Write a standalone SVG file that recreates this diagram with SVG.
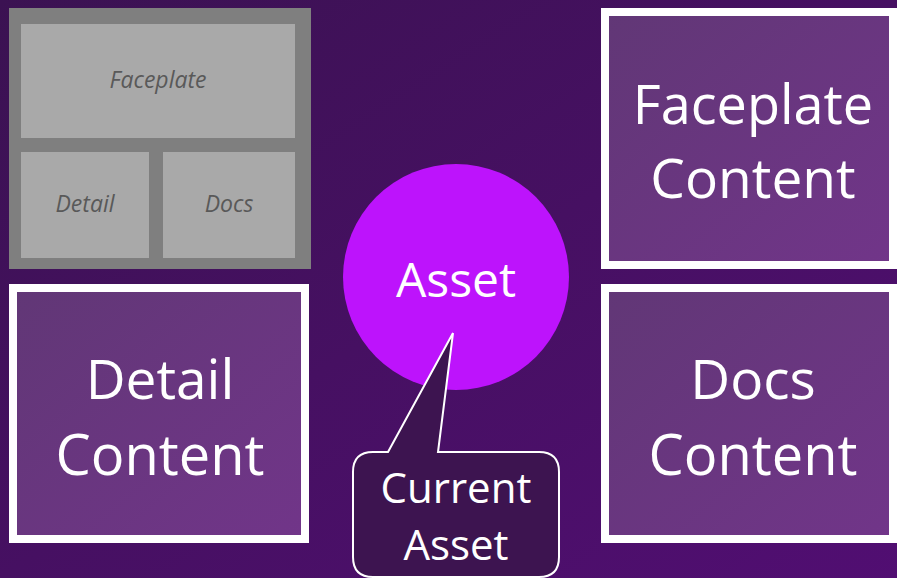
<svg xmlns="http://www.w3.org/2000/svg" width="897" height="578" viewBox="0 0 897 578">
<defs>
<linearGradient id="bg" x1="0" y1="0" x2="1" y2="1">
<stop offset="0" stop-color="#3b1252"/>
<stop offset="1" stop-color="#510e72"/>
</linearGradient>
<linearGradient id="box" x1="0" y1="0" x2="1" y2="1">
<stop offset="0" stop-color="#613776"/>
<stop offset="1" stop-color="#713589"/>
</linearGradient>
<style>
.big{font-family:"Open Sans","Noto Sans",sans-serif;fill:#ffffff;text-anchor:middle}
.small{font-family:"Open Sans","Noto Sans",sans-serif;fill:#595959;font-style:italic;font-size:23px;text-anchor:middle}
.content{fill:url(#box);stroke:#ffffff;stroke-width:8}
.pane{fill:#a9a9a9}
</style>
</defs>
<rect x="0" y="0" width="897" height="578" fill="url(#bg)"/>
<g id="layout">
<rect x="9" y="8" width="302" height="261" fill="#7f7f7f"/>
<rect class="pane" x="21" y="24" width="274" height="114"/>
<rect class="pane" x="21" y="152" width="128" height="106"/>
<rect class="pane" x="163" y="152" width="132" height="106"/>
<text class="small" x="158" y="88">Faceplate</text>
<text class="small" x="85" y="212">Detail</text>
<text class="small" x="229" y="212">Docs</text>
</g>
<g id="faceplate-content">
<rect class="content" x="605" y="12" width="288" height="253"/>
<text class="big" x="753" y="124" font-size="54">Faceplate</text>
<text class="big" x="753" y="198" font-size="55">Content</text>
</g>
<g id="detail-content">
<rect class="content" x="13" y="288" width="292" height="251"/>
<text class="big" x="160" y="399" font-size="55">Detail</text>
<text class="big" x="160" y="475" font-size="56">Content</text>
</g>
<g id="docs-content">
<rect class="content" x="605" y="288" width="288" height="251"/>
<text class="big" x="753" y="399" font-size="55">Docs</text>
<text class="big" x="753" y="475" font-size="56">Content</text>
</g>
<g id="asset">
<circle cx="456" cy="277" r="113" fill="#bd13fc"/>
<text class="big" x="456" y="297" font-size="48">Asset</text>
</g>
<g id="connectors"></g>
<g id="current-asset">
<path d="M388,452 L453,333 L438,452 L539,452 Q559,452 559,472 L559,557 Q559,577 539,577 L373,577 Q353,577 353,557 L353,472 Q353,452 373,452 Z" fill="#3d1450" stroke="#ffffff" stroke-width="2" stroke-linejoin="miter"/>
<text class="big" x="456" y="503" font-size="42">Current</text>
<text class="big" x="456" y="560" font-size="42">Asset</text>
</g>
</svg>
